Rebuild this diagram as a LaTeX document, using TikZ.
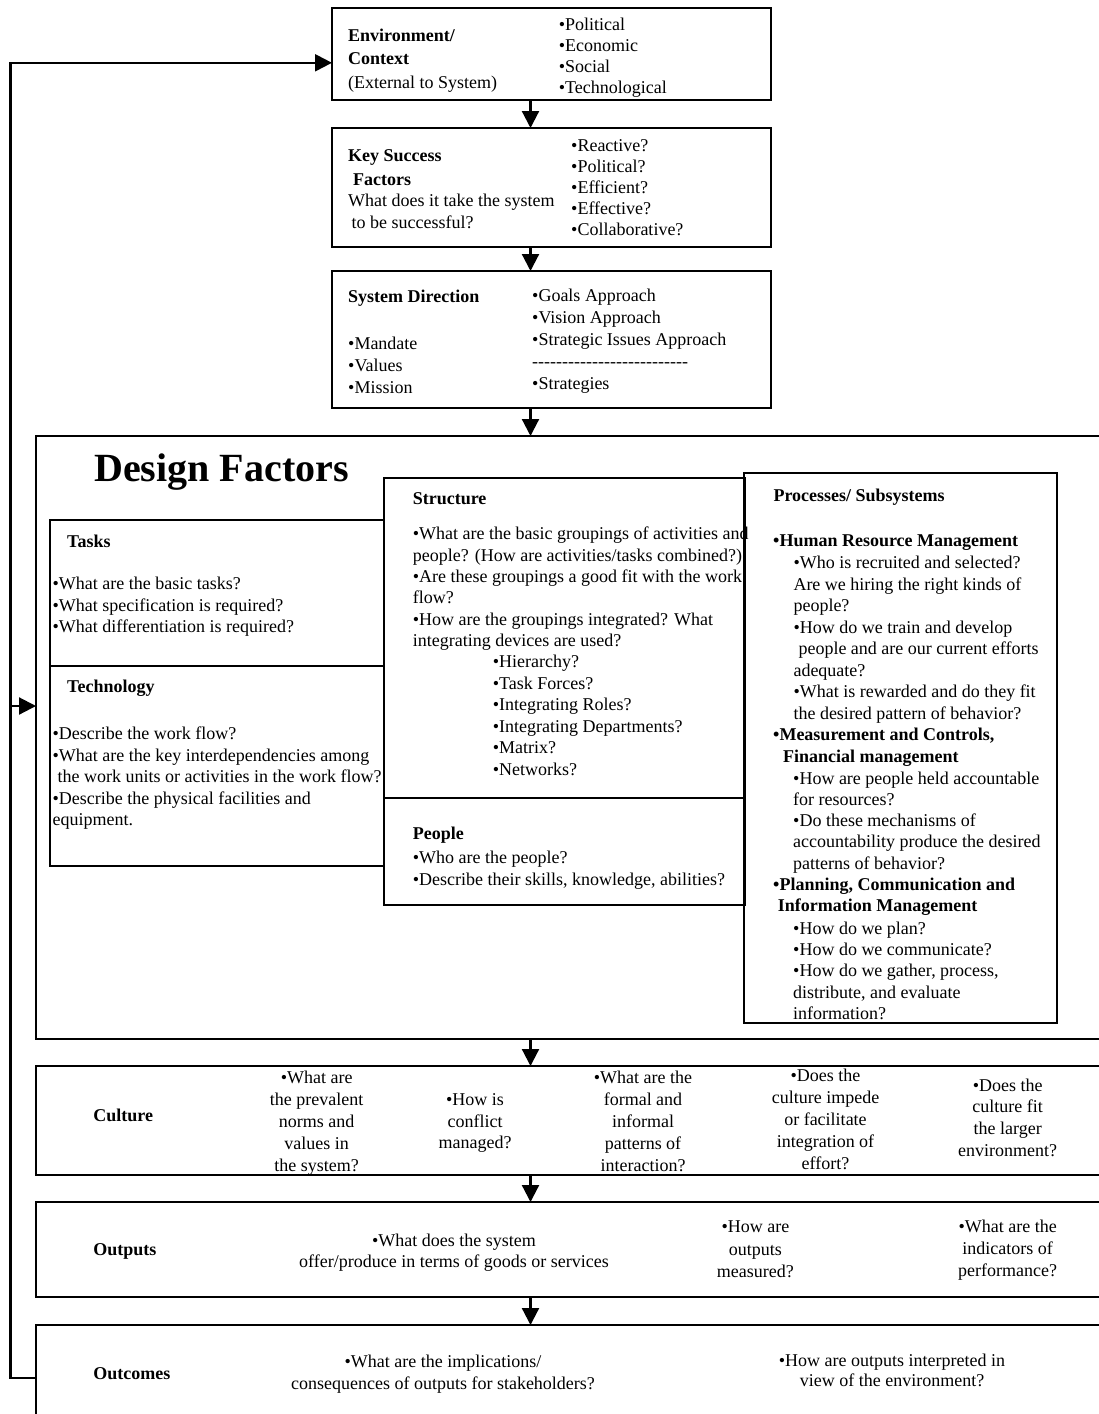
\documentclass[tikz,border=0pt]{standalone}
\usepackage{fontspec}
\setmainfont{Liberation Serif}
\usepackage{tikz}
\usetikzlibrary{arrows.meta}
\newcommand\bodyfont{\fontsize{18}{21.5}\selectfont}
\newcommand\dashrow{\foreach\k in {1,...,26}{-{}}}
\tikzset{
    plain-box/.style = {draw, line width=2.2pt, inner sep=0pt, outer sep=0pt, anchor=north west},
    box-text/.style = {inner sep=0pt, anchor=north west, align=left, font=\bodyfont},
    box-title/.style = {box-text, font=\bodyfont\bfseries},
    box-cell/.style = {inner sep=0pt, anchor=north, align=center, font=\bodyfont},
    flow-arrow/.style = {line width=2.2pt, -{Triangle[length=17pt,width=17pt]}},
}

\begin{document}
\begin{tikzpicture}[x=1pt,y=-1pt]
\useasboundingbox (0,0) rectangle (1099,1414);
\fill[white] (0,0) rectangle (1099,1414);
\clip (0,0) rectangle (1099,1414);

\node[plain-box, minimum width=439pt, minimum height=92pt] (env) at (332,8) {};
\node[plain-box, minimum width=439pt, minimum height=119pt] (ksf) at (332,128) {};
\node[plain-box, minimum width=439pt, minimum height=137pt] (sysdir) at (332,271) {};
\node[plain-box, minimum width=1094pt, minimum height=603pt] (dfac) at (36,436) {};
\node[plain-box, minimum width=334pt, minimum height=146pt] (tasks) at (50,520) {};
\node[plain-box, minimum width=334pt, minimum height=200pt] (tech) at (50,666) {};
\node[plain-box, minimum width=361pt, minimum height=320pt] (struct) at (384,478) {};
\node[plain-box, minimum width=361pt, minimum height=107pt] (people) at (384,798) {};
\node[plain-box, minimum width=313pt, minimum height=550pt] (proc) at (744,473) {};
\node[plain-box, minimum width=1094pt, minimum height=109pt] (culture) at (36,1066) {};
\node[plain-box, minimum width=1094pt, minimum height=95pt] (outputs) at (36,1202) {};
\node[plain-box, minimum width=1094pt, minimum height=106pt] (outcomes) at (36,1325) {};

\node[box-text] (env-l) at (348,29) {\textbf{Environment/}\\[1.8pt]\textbf{Context}\\[1.8pt](External to System)};
\node[box-text, font={\fontsize{18}{21}\selectfont}] (env-r) at (558.7,17.5) {•Political\\•Economic\\•Social\\•Technological};

\node[box-text] (ksf-l) at (348,149) {\textbf{Key Success}\\[2.5pt]\hspace{5pt}\textbf{Factors}\\What does it take the system\\\hspace{3.5pt}to be successful?};
\node[box-text, font={\fontsize{18}{21.1}\selectfont}] (ksf-r) at (571,139) {•Reactive?\\•Political?\\•Efficient?\\•Effective?\\•Collaborative?};

\node[box-title] (sysdir-t) at (348,290) {System Direction};
\node[box-text, font={\fontsize{18}{22.2}\selectfont}] (sysdir-l) at (348,336.8) {•Mandate\\•Values\\•Mission};
\node[box-text, font={\fontsize{18}{22}\selectfont}] (sysdir-r) at (532,288.5) {•Goals Approach\\•Vision Approach\\•Strategic Issues Approach\\\dashrow\\•Strategies};

\node[inner sep=0pt, font={\fontsize{40}{44}\selectfont\bfseries}] (dfac-t) at (221.5,472) {Design Factors};

\node[box-title] (tasks-t) at (67,535.2) {Tasks};
\node[box-text, font={\fontsize{18}{21.7}\selectfont}] (tasks-b) at (52.4,576.8) {•What are the basic tasks?\\•What specification is required?\\•What differentiation is required?};
\node[box-title] (tech-t) at (67,680.2) {Technology};
\node[box-text] (tech-b) at (52.4,726.8) {•Describe the work flow?\\•What are the key interdependencies among\\\hspace{5pt}the work units or activities in the work flow?\\•Describe the physical facilities and\\equipment.};

\node[box-title] (struct-t) at (412.6,492.5) {Structure};
\node[box-text, font={\fontsize{18}{21.4}\selectfont}] (struct-b) at (412.6,526.8) {•What are the basic groupings of activities and\\people? (How are activities/tasks combined?)\\•Are these groupings a good fit with the work\\flow?\\•How are the groupings integrated? What\\integrating devices are used?};
\node[box-text] (struct-s) at (492.7,655.2) {•Hierarchy?\\•Task Forces?\\•Integrating Roles?\\•Integrating Departments?\\•Matrix?\\•Networks?};
\node[box-title] (people-t) at (412.6,826.8) {People};
\node[box-text, font={\fontsize{18}{22}\selectfont}] (people-b) at (412.6,850.8) {•Who are the people?\\•Describe their skills, knowledge, abilities?};

\node[box-title] (proc-t) at (773.3,489.3) {Processes/ Subsystems};
\node[box-title] (hrm-t) at (773,534.4) {•Human Resource Management};
\node[box-text] (hrm-b) at (793.3,556.1) {•Who is recruited and selected?\\Are we hiring the right kinds of\\people?\\•How do we train and develop\\\hspace{5pt}people and are our current efforts\\adequate?\\•What is rewarded and do they fit\\the desired pattern of behavior?};
\node[box-title, font={\fontsize{18}{21.2}\selectfont\bfseries}] (meas-t) at (773,728.3) {•Measurement and Controls,\\\hspace{10pt}Financial management};
\node[box-text, font={\fontsize{18}{21.3}\selectfont}] (meas-b) at (793,771.3) {•How are people held accountable\\for resources?\\•Do these mechanisms of\\accountability produce the desired\\patterns of behavior?};
\node[box-title, font={\fontsize{18}{21.4}\selectfont\bfseries}] (plan-t) at (773,877.8) {•Planning, Communication and\\\hspace{4.7pt}Information Management};
\node[box-text, font={\fontsize{18}{21.35}\selectfont}] (plan-b) at (793,921.5) {•How do we plan?\\•How do we communicate?\\•How do we gather, process,\\distribute, and evaluate\\information?};

\node[box-title, anchor=west] (culture-t) at (93.2,1115) {Culture};
\node[box-cell, font={\fontsize{18}{21.8}\selectfont}] (culture-1) at (316.7,1071.2) {•What are\\the prevalent\\norms and\\values in\\the system?};
\node[box-cell, font={\fontsize{18}{21.6}\selectfont}] (culture-2) at (475,1093.5) {•How is\\conflict\\managed?};
\node[box-cell, font={\fontsize{18}{21.8}\selectfont}] (culture-3) at (643,1071.2) {•What are the\\formal and\\informal\\patterns of\\interaction?};
\node[box-cell, font={\fontsize{18}{22}\selectfont}] (culture-4) at (825.5,1068.5) {•Does the\\culture impede\\or facilitate\\integration of\\effort?};
\node[box-cell, font={\fontsize{18}{21.7}\selectfont}] (culture-5) at (1007.7,1078.5) {•Does the\\culture fit\\the larger\\environment?};

\node[box-title, anchor=west] (outputs-t) at (93.2,1251.7) {Outputs};
\node[box-cell, font={\fontsize{18}{21.7}\selectfont}] (outputs-1) at (454,1233.5) {•What does the system\\offer/produce in terms of goods or services};
\node[box-cell, font={\fontsize{18}{22.2}\selectfont}] (outputs-2) at (755.4,1220.8) {•How are\\outputs\\measured?};
\node[box-cell, font={\fontsize{18}{22}\selectfont}] (outputs-3) at (1007.7,1219.5) {•What are the\\indicators of\\performance?};

\node[box-title, anchor=west] (outcomes-t) at (93.2,1373.3) {Outcomes};
\node[box-cell, font={\fontsize{18}{21.6}\selectfont}] (outcomes-1) at (443,1355.2) {•What are the implications/\\consequences of outputs for stakeholders?};
\node[box-cell, font={\fontsize{18}{20.7}\selectfont}] (outcomes-2) at (892,1353.5) {•How are outputs interpreted in\\view of the environment?};

\coordinate (spine) at (530.5,0);
\coordinate (loop) at (10.5,0);
\coordinate (env-in) at ([yshift=-8.8pt]env.west);
\coordinate (dfac-in) at ([yshift=31.5pt]dfac.west);

\draw[flow-arrow] (env.south -| spine) -- (ksf.north -| spine);
\draw[flow-arrow] (ksf.south -| spine) -- (sysdir.north -| spine);
\draw[flow-arrow] (sysdir.south -| spine) -- (dfac.north -| spine);
\draw[flow-arrow] (dfac.south -| spine) -- (culture.north -| spine);
\draw[flow-arrow] (culture.south -| spine) -- (outputs.north -| spine);
\draw[flow-arrow] (outputs.south -| spine) -- (outcomes.north -| spine);
\draw[flow-arrow] (outcomes.west) -| (loop |- env-in) -- (env-in);
\draw[flow-arrow] (loop |- dfac-in) -- (dfac-in);
\end{tikzpicture}
\end{document}
